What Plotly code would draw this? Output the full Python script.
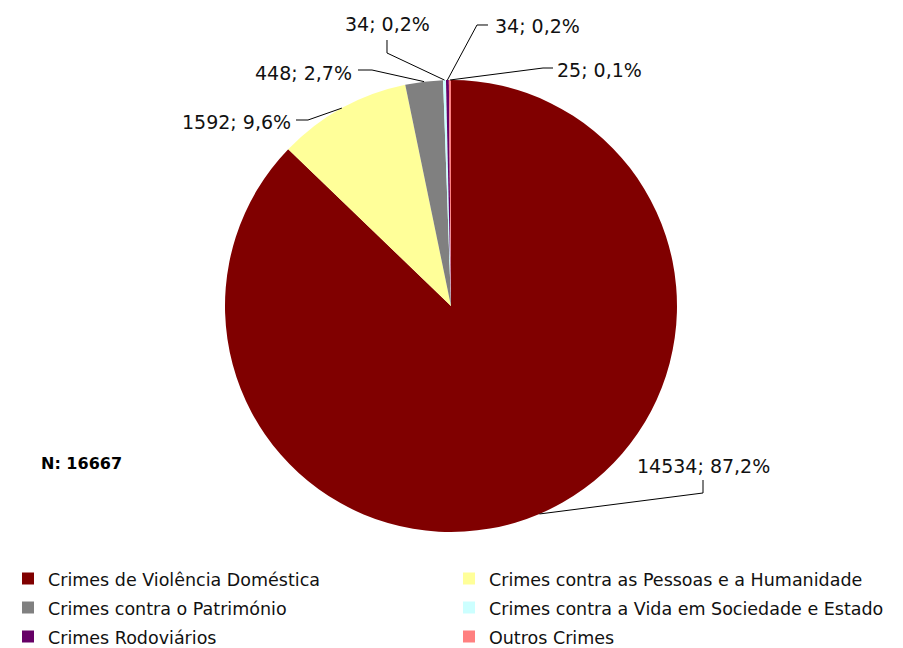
import plotly.graph_objects as go
import math

# ---- data ----
categories = [
    "Crimes de Violência Doméstica",
    "Crimes contra as Pessoas e a Humanidade",
    "Crimes contra o Património",
    "Crimes contra a Vida em Sociedade e Estado",
    "Crimes Rodoviários",
    "Outros Crimes",
]
values = [14534, 1592, 448, 34, 34, 25]
colors = ["#800000", "#FFFF99", "#808080", "#CCFFFF", "#660066", "#FF8080"]
total_label = "N: 16667"

# page is 903x648; the html body has an 8px margin, so the figure is 895x640
PAGE_OFF = 8
W, H = 903 - PAGE_OFF, 648 - PAGE_OFF
# pie geometry (page pixels)
CX, CY, R = 451, 306, 226

def px(x):
    return (x - PAGE_OFF) / W

def py(y):
    return 1 - (y - PAGE_OFF) / H

# legend row height follows legend.font.size; glyphs drawn a bit smaller
legend_labels = [f'<span style="font-size:17.5px">{c}</span>' for c in categories]

fig = go.Figure(go.Pie(
    labels=legend_labels,
    values=values,
    sort=False,
    direction="clockwise",
    rotation=0,
    marker=dict(colors=colors, line=dict(width=0)),
    textinfo="none",
    hoverinfo="label+value+percent",
    domain=dict(x=[px(CX - R), px(CX + R)], y=[py(CY + R), py(CY - R)]),
))

# label placement (layout, page pixels): text anchor and elbow points of leader lines
label_pos = [(703, 466, "center"), (293, 122, "right"), (354, 73, "right"),
             (387, 24, "center"), (493, 26, "left"), (555, 70, "left")]
elbows = [[(703, 493), (703, 480)],
          [(308, 120), (296, 120)],
          [(372, 70), (358, 70)],
          [(387, 53), (387, 40)],
          [(477, 25), (488, 25)],
          [(543, 68), (553, 68)]]

LABEL_FONT = "DejaVu Sans"
total = sum(values)
cum = 0
annotations = []
shapes = []
for i, v in enumerate(values):
    mid = (cum + v / 2) / total * 2 * math.pi
    cum += v
    ex = CX + R * math.sin(mid)
    ey = CY - R * math.cos(mid)
    pts = [(ex, ey)] + elbows[i]
    path = "M " + " L ".join(f"{px(a):.5f},{py(b):.5f}" for a, b in pts)
    shapes.append(dict(type="path", path=path, xref="paper", yref="paper",
                       line=dict(color="black", width=1)))
    pct = f"{v / total * 100:.1f}".replace(".", ",")
    tx, ty, anc = label_pos[i]
    annotations.append(dict(text=f"{v}; {pct}%", x=px(tx), y=py(ty),
                            xref="paper", yref="paper", xanchor=anc, yanchor="middle",
                            showarrow=False,
                            font=dict(family=LABEL_FONT, size=19, color="#111111")))

annotations.append(dict(text=f"<b>{total_label}</b>", x=px(39), y=py(463),
                        xref="paper", yref="paper", xanchor="left", yanchor="middle",
                        showarrow=False,
                        font=dict(family="DejaVu Sans", size=16, color="black")))

fig.update_layout(
    width=W, height=H,
    margin=dict(l=0, r=0, t=0, b=0, autoexpand=False),
    paper_bgcolor="white",
    plot_bgcolor="white",
    annotations=annotations,
    shapes=shapes,
    showlegend=True,
    legend=dict(orientation="h", x=0, y=py(559), xanchor="left", yanchor="top",
                entrywidth=396, entrywidthmode="pixels",
                font=dict(family="DejaVu Sans", size=20, color="#111111"),
                traceorder="normal"),
)

fig.write_html("out.html")
